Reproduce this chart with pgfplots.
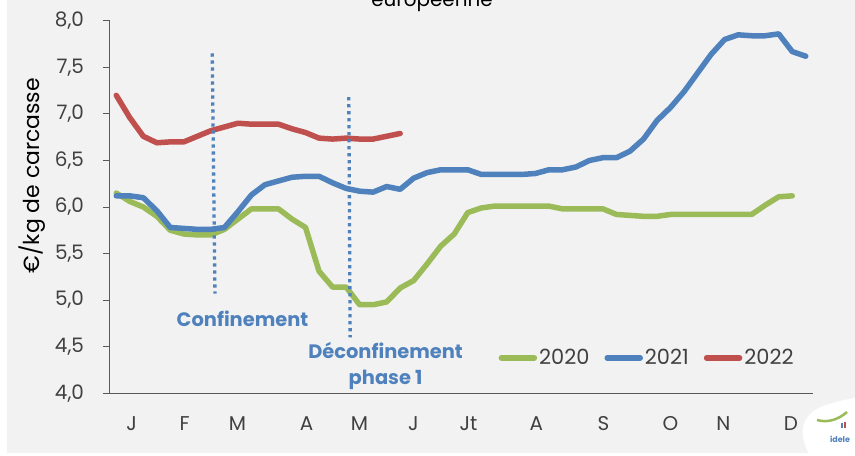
\documentclass[border=0pt]{standalone}
\usepackage{pgfplots}
\pgfplotsset{compat=1.18}
\usepackage{fontspec}
\setmainfont{Poppins}
\definecolor{bgc}{HTML}{F2F2F2}
\definecolor{g20}{HTML}{9BBB59}
\definecolor{b21}{HTML}{4F81BD}
\definecolor{r22}{HTML}{C0504D}
\definecolor{txt}{HTML}{404040}
\definecolor{axc}{HTML}{595959}

\pgfplotstableread{
w v
1 6.15
2 6.06
3 6.00
4 5.90
5 5.75
6 5.71
7 5.70
8 5.70
9 5.76
10 5.87
11 5.98
12 5.98
13 5.98
14 5.87
15 5.78
16 5.31
17 5.14
18 5.14
19 4.95
20 4.95
21 4.98
22 5.13
23 5.21
24 5.39
25 5.58
26 5.71
27 5.94
28 5.99
29 6.01
30 6.01
31 6.01
32 6.01
33 6.01
34 5.98
35 5.98
36 5.98
37 5.98
38 5.92
39 5.91
40 5.90
41 5.90
42 5.92
43 5.92
44 5.92
45 5.92
46 5.92
47 5.92
48 5.92
49 6.02
50 6.11
51 6.12
}\tabA

\pgfplotstableread{
w v
1 6.12
2 6.12
3 6.10
4 5.96
5 5.78
6 5.77
7 5.76
8 5.76
9 5.78
10 5.95
11 6.13
12 6.24
13 6.28
14 6.32
15 6.33
16 6.33
17 6.26
18 6.20
19 6.17
20 6.16
21 6.22
22 6.19
23 6.31
24 6.37
25 6.40
26 6.40
27 6.40
28 6.35
29 6.35
30 6.35
31 6.35
32 6.36
33 6.40
34 6.40
35 6.43
36 6.50
37 6.53
38 6.53
39 6.60
40 6.73
41 6.93
42 7.07
43 7.24
44 7.44
45 7.64
46 7.80
47 7.85
48 7.84
49 7.84
50 7.86
51 7.67
52 7.62
}\tabB

\pgfplotstableread{
w v
1 7.20
2 6.96
3 6.76
4 6.69
5 6.70
6 6.70
7 6.76
8 6.82
9 6.86
10 6.90
11 6.89
12 6.89
13 6.89
14 6.84
15 6.80
16 6.74
17 6.73
18 6.74
19 6.73
20 6.73
21 6.76
22 6.79
}\tabC

\begin{document}
\begin{tikzpicture}[x=1bp,y=1bp]
\useasboundingbox (0,0) rectangle (855,456);
\fill[white] (0,0) rectangle (855,456);
\fill[bgc] (7,3) rectangle (855,456);
\node[anchor=base, font=\fontsize{20}{24}\selectfont, text=black] at (432,449) {européenne};
\begin{axis}[
  at={(81,67.5)}, anchor=south west,
  scale only axis, width=703bp, height=372.3bp,
  xmin=0.5, xmax=52.5, ymin=4, ymax=8,
  clip=false,
  axis x line=bottom, axis y line=left,
  axis line style={-, draw=axc, line width=1bp},
  xtick={2.13,6.05,9.97,15.07,18.99,22.98,27.05,32.08,37.04,42.0,45.9,50.9},
  xticklabels={J,F,M,A,M,J,Jt,A,S,O,N,D},
  x tick style={draw=none},
  ytick={4,4.5,5,5.5,6,6.5,7,7.5,8},
  y tick style={draw=axc, line width=1bp},
  tick align=outside, major tick length=7bp,
  yticklabel style={xshift=-15bp, /pgf/number format/.cd, fixed, fixed zerofill, precision=1, use comma, assume math mode=true},
  xticklabel style={yshift=-13bp},
  tick label style={font=\fontsize{20}{24}\selectfont, text=txt},
  ylabel={€/kg de carcasse},
  ylabel style={at={(rel axis cs:-0.1095,0.584)}, anchor=center, font=\fontsize{22}{26}\selectfont, text=black},
  legend style={at={(rel axis cs:0.549,0.0948)}, anchor=west, draw=none, fill=none,
    font=\fontsize{21}{25}\selectfont, text=txt,
    /tikz/every even column/.append style={column sep=13bp}},
  legend columns=3,
  legend image code/.code={\draw[#1, line cap=round] (0bp,0bp) -- (33bp,0bp);},
  every axis plot/.append style={line width=5.5bp, line join=round, line cap=round},
]
\addplot[g20] table[x=w,y=v] {\tabA};
\addplot[b21] table[x=w,y=v] {\tabB};
\addplot[r22] table[x=w,y=v] {\tabC};
\legend{2020,2021,2022}
\addplot[b21, line width=3.3bp, line cap=butt, dash pattern=on 3.3bp off 3.7bp, forget plot] coordinates {(8.1,7.65) (8.3,5.07)};
\addplot[b21, line width=3.3bp, line cap=butt, dash pattern=on 3.3bp off 3.7bp, forget plot] coordinates {(18.2,7.18) (18.3,4.60)};
\node[font=\fontsize{19.5}{23}\selectfont\bfseries, text=b21] at (axis cs:10.34,4.80) {Confinement};
\node[font=\fontsize{19.5}{26}\selectfont\bfseries, text=b21, align=center] at (axis cs:20.92,4.29) {Déconfinement\\phase 1};
\end{axis}
\fill[white] (810,0) .. controls (796,25) and (803,42) .. (823,50) .. controls (838,55) and (848,57) .. (855,58) -- (855,0) -- cycle;
\draw[g20, line width=2.5bp] (817,36) .. controls (827,33) and (838,36) .. (847,44);
\fill[r22] (844,28) rectangle (846,34);
\fill[b21] (841,28) rectangle (843,33);
\node[font=\fontsize{8}{8}\selectfont\bfseries, text=b21] at (840,17) {idele};
\end{tikzpicture}
\end{document}
